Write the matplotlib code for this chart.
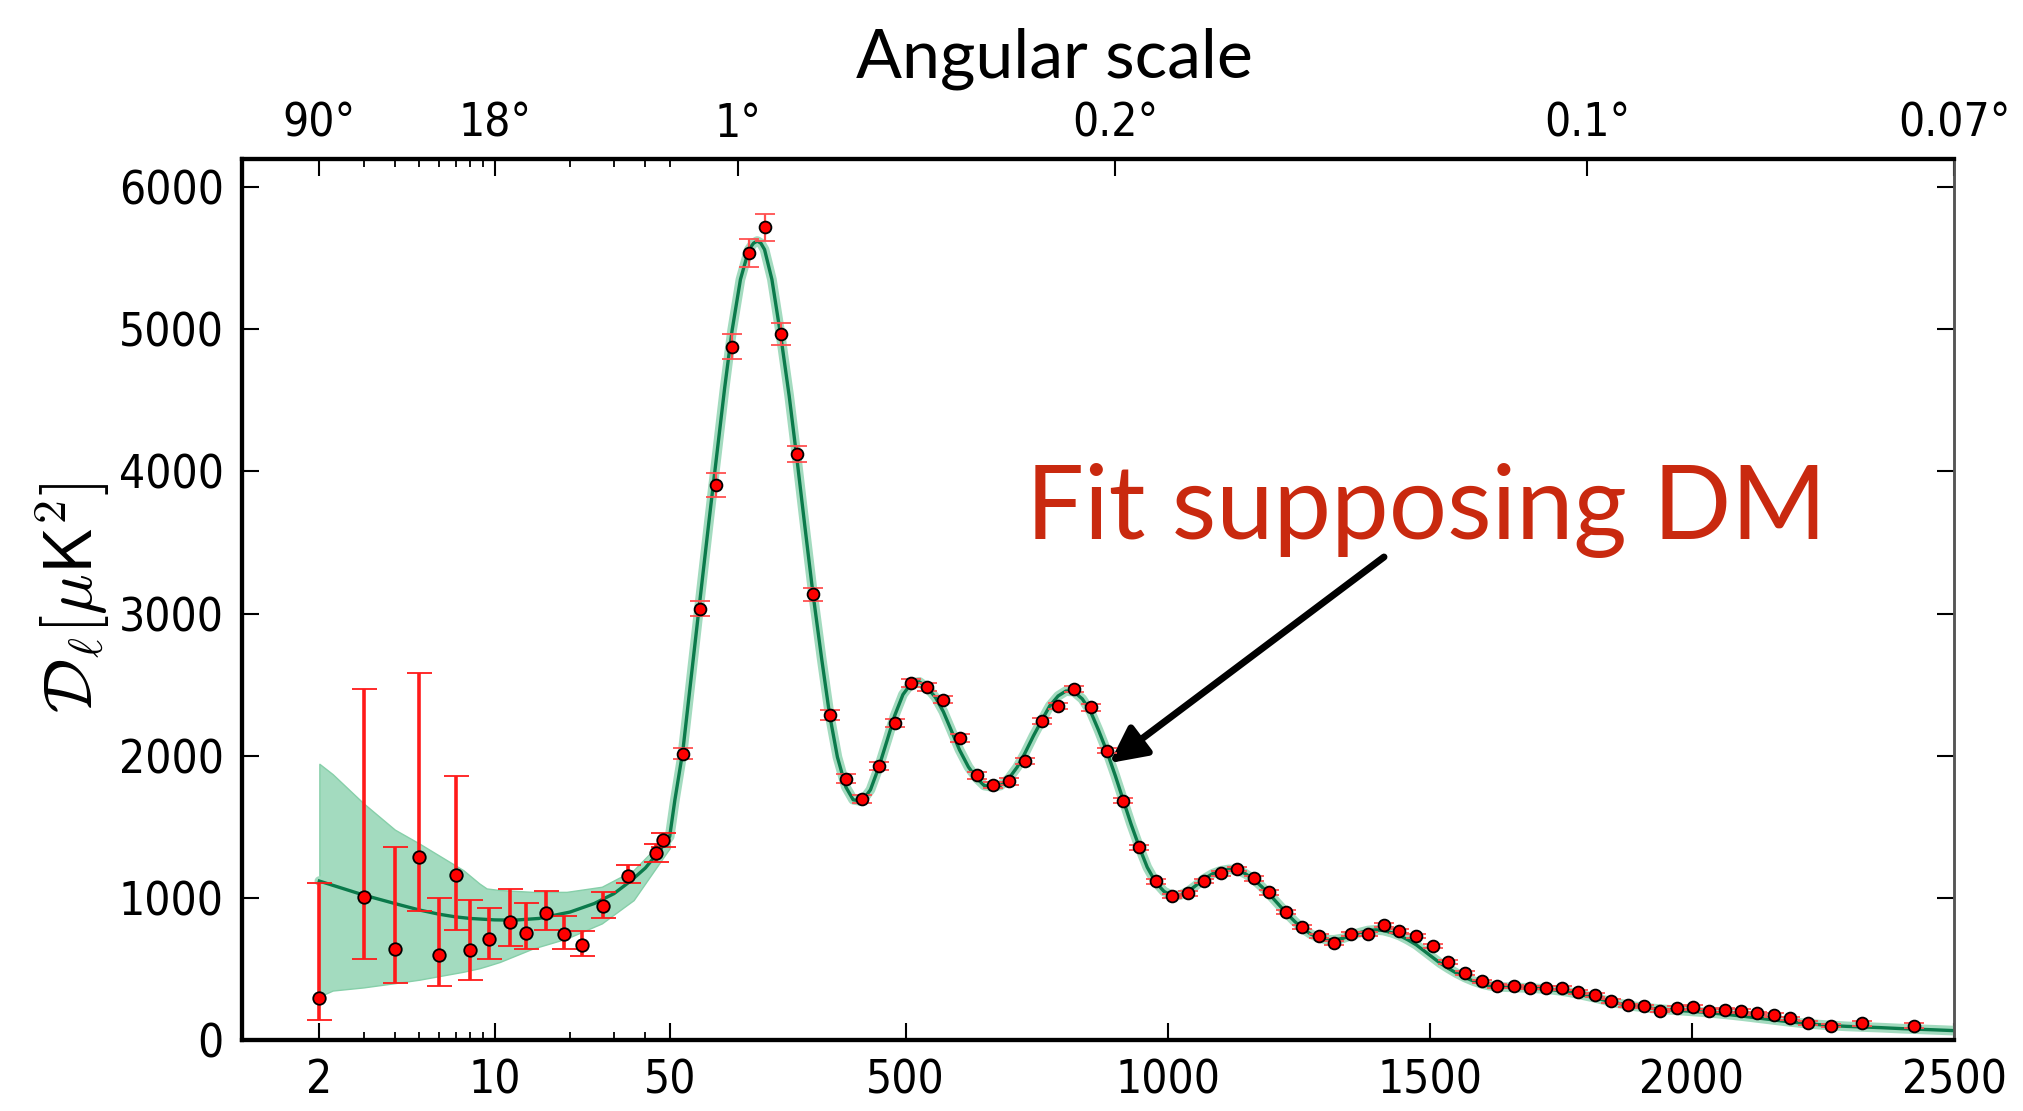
"""
Espectro de potência do CMB (Planck) com ajuste supondo matéria escura
"""

import numpy as np
import matplotlib.pyplot as plt
from matplotlib.ticker import FixedLocator, NullFormatter


# CONFIGURAÇÕES VISUAIS

plt.rcParams['mathtext.fontset'] = 'cm'
TICK_FONT = ['DejaVu Sans']
TEXT_FONT = ['Lato', 'DejaVu Sans']


# DADOS

# multipolos baixos (binados em log), com barras assimétricas
ell_low = [2, 3, 4, 5, 6, 7, 8, 9.5, 11.5, 13.4, 16.0, 19.0, 22.4, 27.0, 34.2, 44.2, 47.0]
dl_low = [294, 1007, 643, 1285, 596, 1160, 636, 711, 831, 753, 890, 749, 671, 944, 1155, 1318, 1407]
dl_low_min = [142, 572, 400, 908, 379, 777, 424, 572, 661, 638, 777, 643, 591, 855, 1102, 1250, 1360]
dl_low_max = [1102, 2466, 1360, 2582, 996, 1859, 984, 932, 1059, 967, 1049, 873, 765, 1038, 1231, 1379, 1454]

# multipolos altos (bins de ~31)
ell_high = [75.4, 107, 138.6, 169, 201, 231, 262, 293, 323.5, 355, 386, 417, 449, 479,
            510, 541, 572, 603, 636, 666, 697, 728, 760, 791, 821, 853, 884, 915, 946,
            977, 1009, 1039, 1069, 1101, 1133, 1164, 1194, 1226, 1257, 1288, 1318, 1350,
            1382, 1412, 1442, 1474, 1506, 1535, 1567, 1599, 1629, 1661, 1691, 1722, 1753,
            1783, 1816, 1846, 1878, 1909, 1940, 1972, 2002, 2033, 2064, 2094, 2125, 2156,
            2188, 2221, 2265, 2325, 2423]
dl_high = [2014, 3035, 3905, 4877, 5538, 5717, 4966, 4124, 3136, 2287, 1838, 1692, 1925, 2233,
           2513, 2485, 2395, 2125, 1861, 1793, 1819, 1960, 2242, 2348, 2468, 2339, 2036, 1684, 1355,
           1115, 1014, 1031, 1120, 1172, 1203, 1137, 1038, 901, 795, 730, 682, 744,
           749, 807, 765, 730, 659, 548, 471, 412, 379, 378, 368, 368, 365,
           337, 318, 273, 243, 236, 207, 224, 231, 207, 212, 203, 188, 177,
           153, 121, 102, 118, 102]
err_high = [40, 50, 85, 90, 100, 95, 80, 55, 45, 35, 30, 28, 28, 28,
            28, 28, 26, 26, 24, 22, 22, 22, 22, 22, 22, 22, 20, 20, 20,
            18, 16, 16, 16, 16, 16, 16, 15, 15, 14, 14, 14, 14,
            14, 14, 14, 13, 13, 12, 12, 12, 12, 12, 12, 12, 12,
            12, 12, 12, 12, 12, 12, 12, 12, 12, 12, 12, 12, 12,
            12, 12, 14, 16, 18]

# modelo (melhor ajuste)
ell_model = [2, 3, 4, 5, 6, 7, 8, 10, 12, 15, 20, 25, 30, 35, 40, 45, 50, 60, 75, 90,
             107, 125, 139, 155, 169, 185, 201, 210, 217, 224, 231, 245, 262, 278, 293,
             308, 323, 340, 355, 370, 386, 400, 417, 433, 449, 465, 479, 495, 510, 526,
             541, 557, 572, 588, 603, 620, 636, 650, 666, 681, 697, 713, 728, 744, 760,
             775, 791, 806, 821, 837, 853, 868, 884, 900, 915, 930, 946, 961, 977, 993,
             1009, 1024, 1039, 1055, 1070, 1086, 1101, 1117, 1133, 1148, 1164, 1179, 1194,
             1210, 1226, 1242, 1257, 1273, 1288, 1303, 1318, 1334, 1350, 1366, 1382, 1397,
             1412, 1427, 1442, 1458, 1474, 1490, 1506, 1520, 1535, 1551, 1567, 1583, 1599,
             1614, 1629, 1645, 1661, 1676, 1691, 1707, 1722, 1737, 1753, 1768, 1783, 1800,
             1816, 1831, 1846, 1862, 1878, 1893, 1909, 1925, 1940, 1956, 1972, 1987, 2002,
             2018, 2033, 2049, 2064, 2080, 2094, 2110, 2125, 2141, 2156, 2172, 2188, 2204,
             2221, 2243, 2265, 2295, 2325, 2360, 2400, 2423, 2460, 2500]
dl_model = [1118, 1020, 960, 915, 885, 866, 855, 845, 843, 855, 900, 960, 1030, 1120, 1210, 1320, 1431, 1690, 2030, 2520,
            3070, 3650, 4090, 4590, 4990, 5350, 5560, 5605, 5620, 5605, 5560, 5350, 4950, 4530, 4080,
            3610, 3150, 2680, 2290, 1990, 1780, 1690, 1680, 1760, 1920, 2110, 2280, 2430, 2505, 2520,
            2480, 2410, 2310, 2170, 2040, 1920, 1840, 1790, 1780, 1790, 1840, 1920, 2020, 2140, 2250,
            2350, 2420, 2455, 2450, 2400, 2310, 2180, 2030, 1860, 1690, 1520, 1355, 1215, 1110, 1045,
            1015, 1020, 1045, 1090, 1135, 1170, 1190, 1200, 1195, 1170, 1130, 1080, 1025,
            960, 895, 835, 785, 745, 720, 705, 705, 715, 735, 755, 770, 775,
            770, 755, 735, 705, 670, 625, 580, 540, 505, 470, 440, 415, 395,
            382, 375, 372, 370, 368, 366, 362, 358, 352, 344, 335, 323, 310,
            296, 282, 268, 256, 245, 236, 229, 222, 217, 213, 209, 205, 201,
            197, 192, 187, 181, 175, 169, 162, 155, 148, 141, 134, 127, 121,
            115, 108, 102, 96, 92, 87, 80, 77, 72, 66]

# faixa de variância cósmica (baixos multipolos)
ell_band = [2, 2.26, 3, 4, 5, 7.5, 8.7, 9.3, 10.5, 14.2, 19.4, 26.8, 35.9, 50]
band_upper = [1943, 1870, 1665, 1480, 1383, 1195, 1101, 1066, 1055, 1042, 1042, 1078, 1195, 1454]
band_lower = [306, 348, 370, 400, 424, 480, 505, 520, 549, 643, 714, 820, 984, 1349]

# eixos
xticks_bottom = [2, 10, 50, 500, 1000, 1500, 2000, 2500]
xticks_minor = [3, 4, 5, 6, 7, 8, 9, 20, 30, 40]
top_ticks = [2, 10, 180, 900, 1800, 2500]
top_labels = ['90°', '18°', '1°', '0.2°', '0.1°', '0.07°']
top_minor = [3, 4, 5, 6, 7, 8, 9, 20, 30, 40, 50]
yticks = [0, 1000, 2000, 3000, 4000, 5000, 6000]


# ESCALA HÍBRIDA: log até l=50, linear depois

DEC = 478.0


def fwd(l):
    l = np.asarray(l, dtype=float)
    return np.where(l > 50, l, 50 + DEC * np.log10(np.clip(l, 1e-3, None) / 50))


def inv(u):
    u = np.asarray(u, dtype=float)
    return np.where(u > 50, u, 50 * 10 ** ((np.minimum(u, 50) - 50) / DEC))


# GRÁFICO

fig = plt.figure(figsize=(20.23, 11.11), dpi=100)
ax = fig.add_axes([0.1195, 0.0639, 0.8464, 0.7927])
ax.set_xscale('function', functions=(fwd, inv))

ax.fill_between(ell_band, band_lower, band_upper, color='#a3dbbf', edgecolor='#86cfa9',
                linewidth=1, zorder=1)
ax.plot(ell_model, dl_model, color='#a3dbbf', linewidth=7, zorder=2,
        solid_capstyle='round')
ax.plot(ell_model, dl_model, color='#0b7a4b', linewidth=2.4, zorder=3)

dl_low_arr = np.array(dl_low)
yerr_low = [dl_low_arr - np.array(dl_low_min), np.array(dl_low_max) - dl_low_arr]
ax.errorbar(ell_low, dl_low, yerr=yerr_low, fmt='o', color='red', ecolor='#ff1a1a',
            elinewidth=2.6, capsize=9, capthick=2, markersize=9,
            markerfacecolor='red', markeredgecolor='black', markeredgewidth=1.3,
            zorder=5)
ax.errorbar(ell_high, dl_high, yerr=err_high, fmt='o', color='red', ecolor='#ff5050',
            elinewidth=1.6, capsize=7, capthick=1.4, markersize=8.5,
            markerfacecolor='red', markeredgecolor='black', markeredgewidth=1.3,
            zorder=5)

ax.set_xlim(0.98, 2500)
ax.set_ylim(0, 6195)

ax.xaxis.set_major_locator(FixedLocator(xticks_bottom))
ax.xaxis.set_minor_locator(FixedLocator(xticks_minor))
ax.xaxis.set_minor_formatter(NullFormatter())
ax.set_xticklabels([str(t) for t in xticks_bottom])
ax.set_yticks(yticks)

ax.tick_params(axis='both', which='major', direction='in', length=12, width=1.5,
               labelsize=33, pad=13)
ax.tick_params(axis='both', which='minor', direction='in', length=6, width=1.3)
ax.tick_params(axis='y', right=True)
for lab in ax.get_xticklabels() + ax.get_yticklabels():
    lab.set_family(TICK_FONT)
    lab.set_fontstretch('condensed')

# eixo superior: escala angular
axt = ax.twiny()
axt.set_xscale('function', functions=(fwd, inv))
axt.set_xlim(ax.get_xlim())
axt.xaxis.set_major_locator(FixedLocator(top_ticks))
axt.xaxis.set_minor_locator(FixedLocator(top_minor))
axt.xaxis.set_minor_formatter(NullFormatter())
axt.set_xticklabels(top_labels)
axt.tick_params(axis='x', which='major', direction='in', length=12, width=1.5,
                labelsize=33, pad=9)
axt.tick_params(axis='x', which='minor', direction='in', length=6, width=1.3)
for lab in axt.get_xticklabels():
    lab.set_family(TICK_FONT)
    lab.set_fontstretch('condensed')

for a in (ax, axt):
    for side in ['left', 'bottom', 'top']:
        a.spines[side].set_linewidth(3)
    a.spines['right'].set_linewidth(1.8)
    a.spines['right'].set_color('#555555')

fig.text(0.036, 0.462, r'$\mathcal{D}_\ell[\mu\mathsf{K}^2]$', rotation=90,
         ha='center', va='center', fontsize=49)

fig.text(0.521, 1 - 77 / 1111, 'Angular scale', ha='center', va='baseline',
         fontsize=49, family=TEXT_FONT)

fig.text(0.507, 1 - 539 / 1111, 'Fit supposing DM', ha='left', va='baseline',
         fontsize=74, color='#c9290f', family=TEXT_FONT)

ax.annotate('', xy=(889, 1948), xycoords='data',
            xytext=(1384 / 2023, 1 - 557 / 1111), textcoords='figure fraction',
            arrowprops=dict(arrowstyle='-|>', color='black', lw=5,
                            mutation_scale=55, shrinkA=0, shrinkB=0))

fig.savefig('out.png', dpi=100)
